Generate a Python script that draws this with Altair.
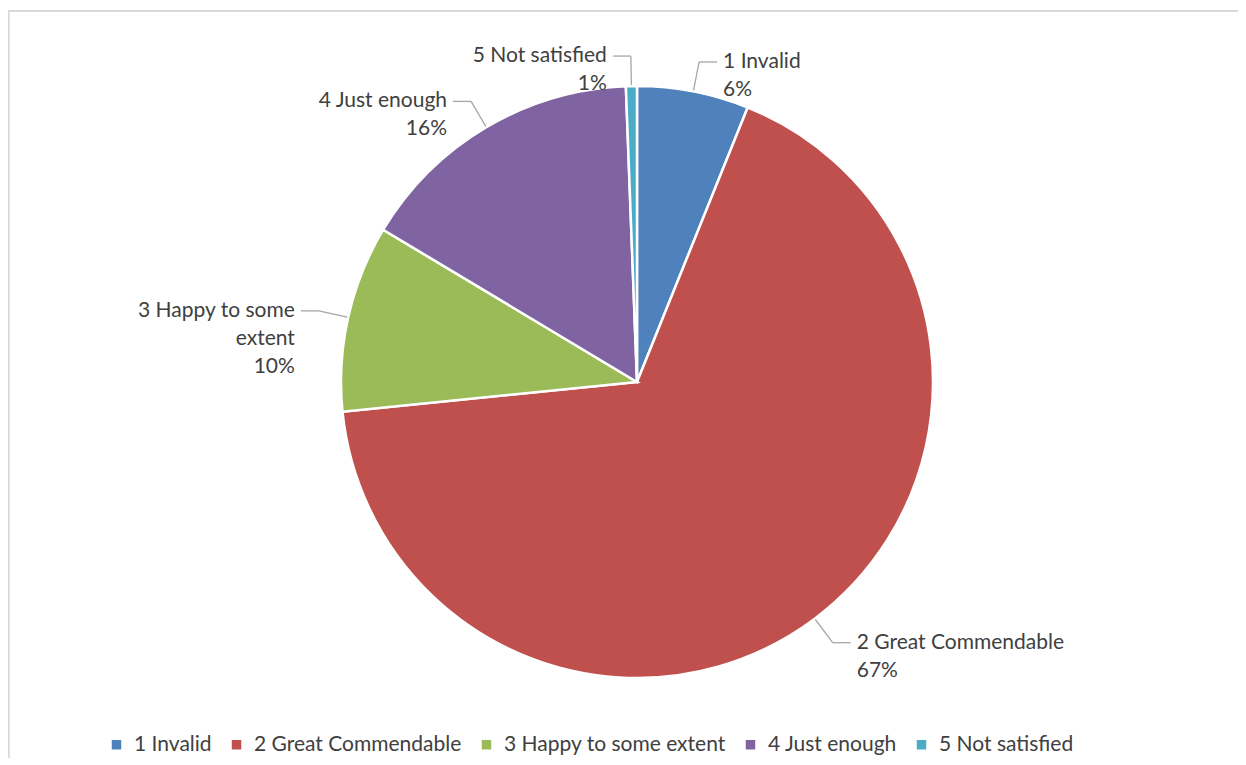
import altair as alt
import pandas as pd

# ---- data ----
categories = ["1 Invalid", "2 Great Commendable", "3 Happy to some extent",
              "4 Just enough", "5 Not satisfied"]
shares = [6.1, 67.3, 10.2, 15.8, 0.6]
label_text = ["1 Invalid", "2 Great Commendable", "3 Happy to some\nextent",
              "4 Just enough", "5 Not satisfied"]
colors = ["#4F81BD", "#C0504D", "#9BBB59", "#8064A2", "#4BACC6"]

df = pd.DataFrame({
    "cat": categories,
    "share": shares,
    "label": label_text,
    "ord": list(range(len(categories))),
})

# ---- layout constants ----
W, H = 1230, 750
CX, CY, R = 629, 374, 296
FONT = "Lato"
FS = 21
TXT = "#404040"
LEAD = "#A6A6A6"

base = alt.Chart(df)

arc = base.mark_arc(outerRadius=R, stroke="white", strokeWidth=2.5).encode(
    theta=alt.Theta("share:Q", stack=True),
    order=alt.Order("ord:Q"),
    color=alt.Color(
        "cat:N",
        scale=alt.Scale(domain=categories, range=colors),
        legend=alt.Legend(
            orient="none", legendX=98, legendY=726, direction="horizontal",
            title=None, symbolType="square", symbolSize=90, symbolStrokeWidth=0,
            labelFont=FONT, labelFontSize=FS, labelColor=TXT,
            columnPadding=14, labelOffset=7, labelLimit=400,
        ),
    ),
    x=alt.value(CX),
    y=alt.value(CY),
)

geo = base.transform_joinaggregate(total="sum(share)").transform_window(
    cum="sum(share)", sort=[alt.SortField("ord")], frame=[None, 0]
).transform_calculate(
    mid="2*PI*(datum.cum - datum.share/2)/datum.total",
).transform_calculate(
    sgn="sin(datum.mid) >= 0 ? 1 : -1",
    lx1=f"{CX} + {R + 1}*sin(datum.mid)",
    ly1=f"{CY} - {R + 1}*cos(datum.mid)",
    lx2=f"{CX} + {R + 30}*sin(datum.mid)",
    ly2=f"{CY} - {R + 30}*cos(datum.mid)",
).transform_calculate(
    lx3="datum.lx2 + 18*datum.sgn",
    tx="datum.lx2 + 24*datum.sgn",
    txt="datum.label + '\\n' + format(datum.share/datum.total, '.0%')",
)

leaders = geo.mark_rule(color=LEAD, strokeWidth=1.3).encode(
    x=alt.X("lx1:Q", scale=None, axis=None),
    y=alt.Y("ly1:Q", scale=None, axis=None),
    x2="lx2:Q",
    y2="ly2:Q",
)
elbows = geo.mark_rule(color=LEAD, strokeWidth=1.3).encode(
    x=alt.X("lx2:Q", scale=None, axis=None),
    y=alt.Y("ly2:Q", scale=None, axis=None),
    x2="lx3:Q",
    y2="ly2:Q",
)

def labels(sgn, align):
    return geo.transform_filter(f"datum.sgn == {sgn}").mark_text(
        align=align, baseline="middle", lineBreak="\n", font=FONT,
        fontSize=FS, lineHeight=28, color=TXT,
    ).encode(
        x=alt.X("tx:Q", scale=None, axis=None),
        y=alt.Y("ly2:Q", scale=None, axis=None),
        text="txt:N",
    )

border = base.mark_rule(color="#D9D9D9", strokeWidth=1.5).encode(
    x=alt.value(0), x2=alt.value(W), y=alt.value(3)
)
border_left = base.mark_rule(color="#D9D9D9", strokeWidth=1.5).encode(
    x=alt.value(0.5), y=alt.value(3), y2=alt.value(H)
)

chart = alt.layer(
    border, border_left, arc, leaders, elbows, labels(1, "left"), labels(-1, "right")
).properties(
    width=W, height=H, padding=0, autosize="none"
).configure_view(strokeWidth=0)

chart.save("out.html", embed_options={"renderer": "svg", "actions": False})
